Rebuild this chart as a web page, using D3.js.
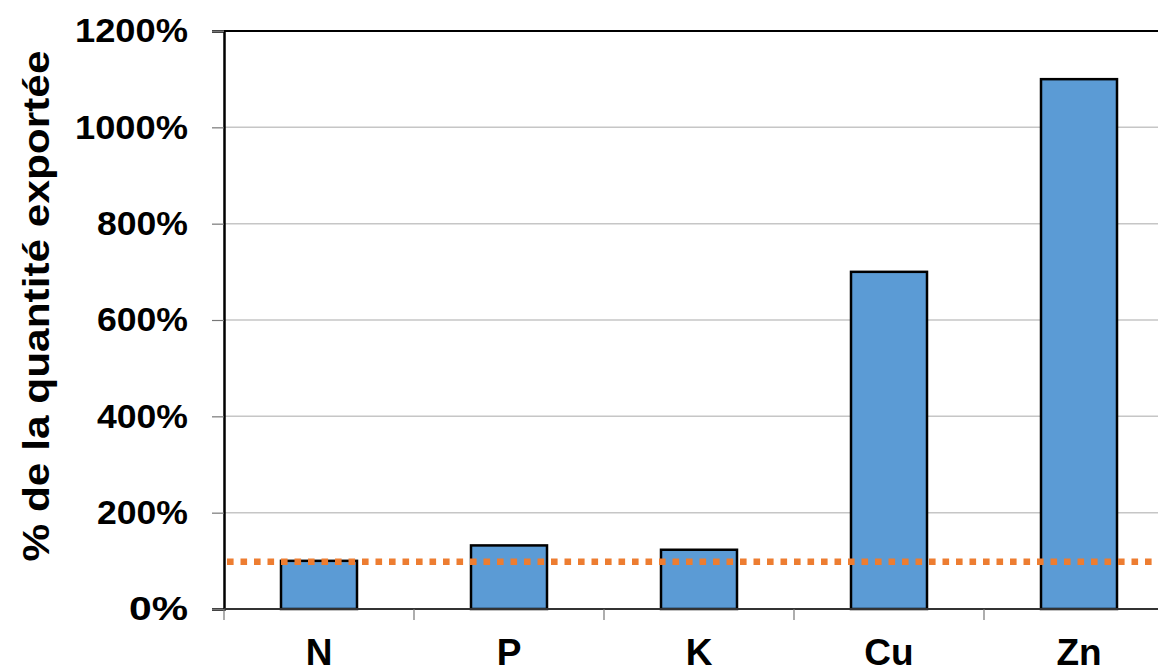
<!DOCTYPE html>
<html>
<head>
<meta charset="utf-8">
<script src="https://cdn.jsdelivr.net/npm/d3@7"></script>
<style>
  html, body { margin: 0; padding: 0; background: #fff; }
  svg { display: block; }
  text { font-family: "Liberation Sans", Arial, Helvetica, sans-serif; font-weight: bold; fill: #000; }
</style>
</head>
<body>
<svg id="chart" width="1158" height="670"></svg>
<script>
// Nutrient categories and their share of the exported quantity (%)
const categories = ["N", "P", "K", "Cu", "Zn"];
const values = [100, 132, 123, 700, 1100];
// Reference level: 100 % of the exported quantity
const referenceValue = [100];
const yTicks = [0, 200, 400, 600, 800, 1000, 1200];
const yTitle = "% de la quantité exportée";

const W = 1158, H = 670;
const margin = { left: 224, top: 31, bottom: 61 };
const bandWidth = 190;
const svg = d3.select("#chart");

const x = d3.scaleBand()
  .domain(categories)
  .range([margin.left, margin.left + bandWidth * categories.length])
  .paddingInner(0.6)
  .paddingOuter(0.3);

const y = d3.scaleLinear()
  .domain([0, 1200])
  .range([H - margin.bottom, margin.top]);

// Horizontal gridlines
svg.append("g")
  .selectAll("line")
  .data(yTicks.filter(d => d > 0 && d < 1200))
  .join("line")
  .attr("x1", margin.left).attr("x2", W)
  .attr("y1", d => y(d)).attr("y2", d => y(d))
  .attr("stroke", "#c6c6c6").attr("stroke-width", 1.5);

// Top frame line
svg.append("line")
  .attr("x1", margin.left).attr("x2", W)
  .attr("y1", y(1200)).attr("y2", y(1200))
  .attr("stroke", "#000").attr("stroke-width", 2);

// Y axis
const yAxis = d3.axisLeft(y)
  .tickValues(yTicks)
  .tickSize(12)
  .tickPadding(22)
  .tickFormat(d => d + "%");
const gy = svg.append("g")
  .attr("transform", `translate(${margin.left},0)`)
  .call(yAxis);
gy.select(".domain").attr("stroke", "#000").attr("stroke-width", 2.5);
gy.selectAll(".tick line").attr("stroke", "#777").attr("stroke-width", 1.2);
gy.selectAll(".tick text")
  .attr("font-size", 32.5)
  .attr("dy", "0.33em")
  .attr("x", -36)
  .attr("lengthAdjust", "spacingAndGlyphs")
  .each(function(d) {
    const len = String(d + "%").length;
    d3.select(this).attr("textLength", len === 5 ? 113 : len === 4 ? 91 : 59);
  });

// Bars
svg.append("g")
  .selectAll("rect")
  .data(values)
  .join("rect")
  .attr("x", (d, i) => x(categories[i]))
  .attr("width", x.bandwidth())
  .attr("y", d => y(d))
  .attr("height", d => y(0) - y(d))
  .attr("fill", "#5b9bd5")
  .attr("stroke", "#000")
  .attr("stroke-width", 2.5);

// X axis: line and ticks at band boundaries
svg.append("line")
  .attr("x1", margin.left).attr("x2", W)
  .attr("y1", y(0)).attr("y2", y(0))
  .attr("stroke", "#333").attr("stroke-width", 2);
const boundaries = d3.range(categories.length + 1).map(i => margin.left + i * bandWidth);
svg.append("g")
  .selectAll("line")
  .data(boundaries)
  .join("line")
  .attr("x1", d => d).attr("x2", d => d)
  .attr("y1", y(0)).attr("y2", y(0) + 11)
  .attr("stroke", "#777").attr("stroke-width", 1.2);

// Category labels
svg.append("g")
  .selectAll("text")
  .data(categories)
  .join("text")
  .attr("x", d => x(d) + x.bandwidth() / 2)
  .attr("y", 665)
  .attr("text-anchor", "middle")
  .attr("font-size", 37)
  .text(d => d);

// Reference line at 100 %
svg.append("g")
  .selectAll("line")
  .data(referenceValue)
  .join("line")
  .attr("x1", margin.left + 3).attr("x2", W)
  .attr("y1", d => y(d) + 1).attr("y2", d => y(d) + 1)
  .attr("stroke", "#ed7d31")
  .attr("stroke-width", 6.5)
  .attr("stroke-dasharray", "6.6 6.9");

// Y axis title
svg.append("text")
  .attr("transform", `translate(49,306) rotate(-90)`)
  .attr("text-anchor", "middle")
  .attr("font-size", 37)
  .attr("textLength", 511)
  .attr("lengthAdjust", "spacingAndGlyphs")
  .text(yTitle);
</script>
</body>
</html>
